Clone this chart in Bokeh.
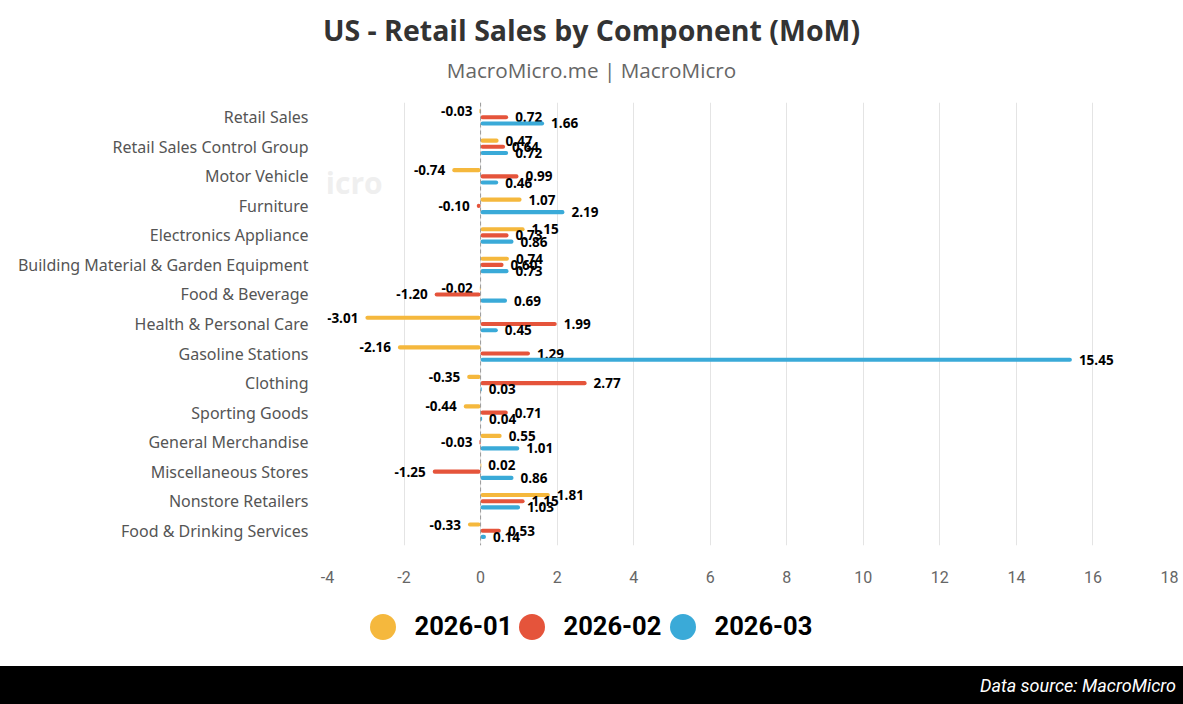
from bokeh.plotting import figure
from bokeh.models import (FactorRange, Range1d, ColumnDataSource, Span, Label,
                          Legend, LegendItem, FixedTicker, Div)
from bokeh.transform import dodge
from bokeh.layouts import column
from bokeh.core.properties import value
from bokeh.embed import file_html
from bokeh.resources import INLINE

title_text = "US - Retail Sales by Component (MoM)"
subtitle_text = "MacroMicro.me | MacroMicro"
source_text = "Data source: MacroMicro"
categories = [
    "Retail Sales", "Retail Sales Control Group", "Motor Vehicle", "Furniture",
    "Electronics Appliance", "Building Material & Garden Equipment",
    "Food & Beverage", "Health & Personal Care", "Gasoline Stations", "Clothing",
    "Sporting Goods", "General Merchandise", "Miscellaneous Stores",
    "Nonstore Retailers", "Food & Drinking Services",
]
series_names = ["2026-01", "2026-02", "2026-03"]
jan = [-0.03, 0.47, -0.74, 1.07, 1.15, 0.74, -0.02, -3.01, -2.16, -0.35, -0.44, 0.55, 0.02, 1.81, -0.33]
feb = [0.72, 0.64, 0.99, -0.10, 0.73, 0.60, -1.20, 1.99, 1.29, 2.77, 0.71, -0.03, -1.25, 1.15, 0.53]
mar = [1.66, 0.72, 0.46, 2.19, 0.86, 0.73, 0.69, 0.45, 15.45, 0.03, 0.04, 1.01, 0.86, 1.03, 0.14]
x_ticks = [-4, -2, 0, 2, 4, 6, 8, 10, 12, 14, 16, 18]
colors = ["#f5b83d", "#e5543b", "#3aaad8"]
offsets = [0.21, 0.0, -0.21]

W = 1183

header = Div(
    text=(f'<div style="position:relative;width:{W}px;height:92px;">'
          f'<div style="position:absolute;left:0;top:12px;width:{W}px;text-align:center;'
          f'font-family:\'Open Sans\';font-weight:bold;font-size:28.5px;line-height:36px;'
          f'color:#333333;">{title_text}</div>'
          f'<div style="position:absolute;left:0;top:56px;width:{W}px;text-align:center;'
          f'font-family:\'Open Sans\';font-size:20.7px;line-height:28px;color:#666666;">'
          f'{subtitle_text}</div></div>'),
    width=W, height=92, margin=0, styles={"background-color": "#ffffff"})

p = figure(width=W, height=498, output_backend="svg", toolbar_location=None,
           y_range=FactorRange(factors=list(reversed(categories))),
           x_range=Range1d(x_ticks[0], x_ticks[-1]),
           min_border_left=327, min_border_right=14, min_border_top=10,
           min_border_bottom=45)
p.outline_line_color = None
p.background_fill_color = "white"
p.border_fill_color = "white"

# watermark (only the part inside the plot area shows)
p.add_layout(Label(x=-124, y=363, x_units="screen", y_units="screen", text="MacroMicro",
                   text_align="left", text_baseline="middle", text_font="Open Sans",
                   text_font_style="bold", text_font_size="30px", text_color="#efefef",
                   level="underlay"))

p.add_layout(Span(location=0, dimension="height", line_color="#999999",
                  line_dash="4 3", line_width=1))

series_vals = [jan, feb, mar]
for name, vals, col, off in zip(series_names, series_vals, colors, offsets):
    src = ColumnDataSource(dict(
        cat=categories, v=vals,
        label=[f"{v:.2f}" for v in vals],
        align=["left" if v >= 0 else "right" for v in vals],
        xoff=[7 if v >= 0 else -7 for v in vals],
    ))
    p.hbar(y=dodge("cat", off, range=p.y_range), left=0, right="v", height=0.14,
           fill_color=col, line_color=None, source=src, border_radius=2)
    p.text(x="v", y=dodge("cat", off, range=p.y_range), text="label", source=src,
           text_align="align", x_offset="xoff", text_baseline="middle",
           text_font=value("Open Sans"), text_font_style="bold", text_font_size="13.5px",
           text_color="black")

p.xaxis.ticker = FixedTicker(ticks=x_ticks)
p.xaxis.major_label_overrides = {t: str(t) for t in x_ticks}
p.xgrid.ticker = FixedTicker(ticks=x_ticks)
p.xgrid.grid_line_color = "#e4e4e4"
p.ygrid.grid_line_color = None
p.xaxis.axis_line_color = None
p.xaxis.major_tick_line_color = None
p.xaxis.minor_tick_line_color = None
p.xaxis.major_tick_out = 0
p.xaxis.major_label_standoff = 25
p.xaxis.major_label_text_font = "Roboto"
p.xaxis.major_label_text_font_size = "16px"
p.xaxis.major_label_text_color = "#666666"

p.yaxis.axis_line_color = None
p.yaxis.major_tick_line_color = None
p.yaxis.major_tick_out = 0
p.yaxis.major_label_standoff = 19
p.yaxis.major_label_text_font = "Noto Sans"
p.yaxis.major_label_text_font_size = "16px"
p.yaxis.major_label_text_color = "#555555"

# legend strip (its frame lines up with the chart's frame in the column)
lg = figure(width=W, height=76, output_backend="svg", toolbar_location=None,
            x_axis_type=None, y_axis_type=None, x_range=Range1d(0, 1), y_range=Range1d(0, 1),
            min_border_left=0, min_border_right=0, min_border_top=0, min_border_bottom=0)
lg.outline_line_color = None
lg.xgrid.visible = False
lg.ygrid.visible = False
legend_x = [22.5, 171.5, 322.5]
for name, col, lx in zip(series_names, colors, legend_x):
    dot = lg.circle(x=[-10], y=[-10], radius=0.01, fill_color=col, line_color=None)
    lg.add_layout(Legend(items=[LegendItem(label=name, renderers=[dot])],
                         orientation="horizontal", location=(lx, 7.5),
                         glyph_width=65, glyph_height=65, label_standoff=0, spacing=0,
                         padding=0, margin=0, border_line_color=None,
                         background_fill_alpha=0,
                         label_text_font="Roboto", label_text_font_style="bold",
                         label_text_font_size="25.5px", label_text_color="black"))

footer = Div(
    text=(f'<div style="width:{W}px;box-sizing:border-box;padding-right:7px;padding-top:10px;'
          f'text-align:right;color:#ffffff;font-style:italic;font-family:Roboto;'
          f'font-size:18px;line-height:20px;">{source_text}</div>'),
    width=W, height=38, margin=0, styles={"background-color": "#000000"})

layout = column(header, p, lg, footer, spacing=0)
open("out.html", "w").write(file_html(layout, INLINE))
